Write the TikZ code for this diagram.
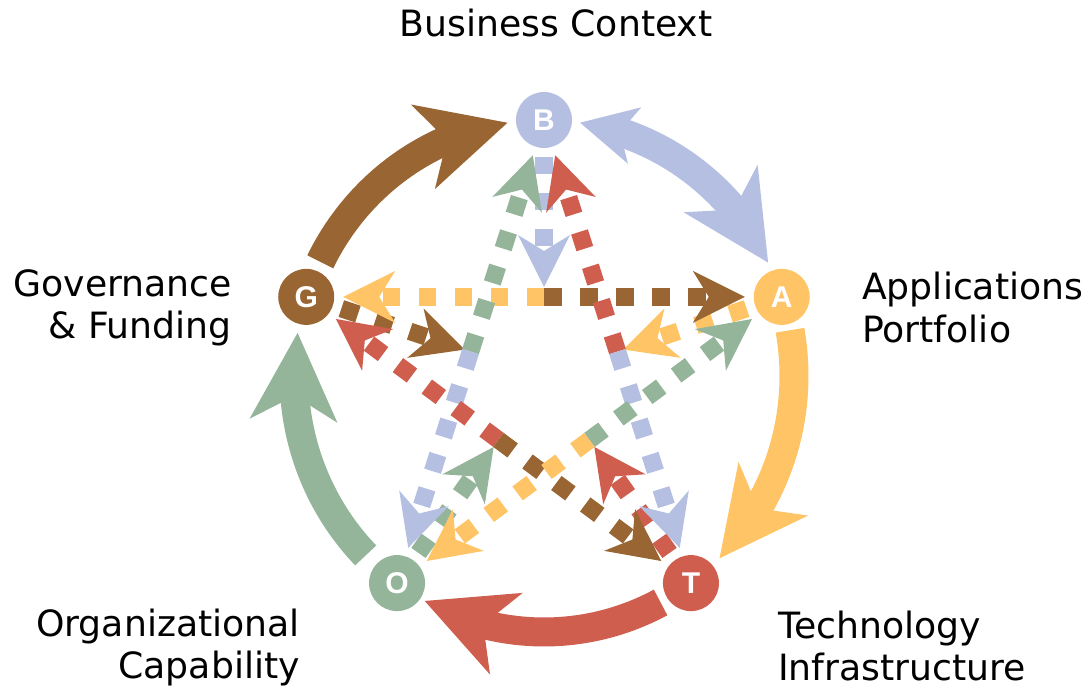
\documentclass[tikz,border=0pt]{standalone}
\usepackage{fontspec}
\setmainfont{DejaVu Sans}
\newfontfamily\letterfont{Liberation Sans}
\usetikzlibrary{arrows.meta,bending,calc}
\definecolor{cB}{HTML}{B4BFE2}
\definecolor{cA}{HTML}{FFC466}
\definecolor{cT}{HTML}{D05E4F}
\definecolor{cO}{HTML}{95B59A}
\definecolor{cG}{HTML}{996633}
\begin{document}
\begin{tikzpicture}[x=1pt,y=1pt,
  hub/.style={circle,minimum size=56pt,inner sep=0pt,outer sep=9pt,
    font=\letterfont\bfseries\fontsize{30}{30}\selectfont,text=white},
  band/.style={line width=29pt},
  bigtip/.style={-{Stealth[length=88pt,width=88pt,inset=25pt,line width=0pt]}},
  dots/.style={line width=17.5pt,dash pattern=on 17.5pt off 18.5pt,
    -{Stealth[length=52pt,width=52pt,inset=16pt,line width=0pt]}},
  lab/.style={font=\fontsize{36.2}{42}\selectfont,inner sep=0pt}
]
\useasboundingbox (0,0) rectangle (1084,688);
\coordinate (C) at (544,312);

% hubs
\node[hub,fill=cB] (B) at ($(C)+(90:250 and 256)$) {B};
\node[hub,fill=cA] (A) at ($(C)+(18:250 and 256)$) {A};
\node[hub,fill=cT] (T) at ($(C)+(-54:250 and 256)$) {T};
\node[hub,fill=cO] (O) at ($(C)+(-126:250 and 256)$) {O};
\node[hub,fill=cG] (G) at ($(C)+(162:250 and 256)$) {G};

% outer arcs
\draw[band,cG,bigtip] ($(C)+(153.5:250 and 256)$)
  arc[start angle=153.5,end angle=98.4,x radius=250,y radius=256];
\draw[band,cB,{Stealth[length=56pt,width=58pt,inset=15pt,line width=0pt]}-{Stealth[length=88pt,width=88pt,inset=25pt,line width=0pt]}]
  ($(C)+(81.7:250 and 256)$)
  arc[start angle=81.7,end angle=26.3,x radius=250,y radius=256];
\draw[band,cA,bigtip] ($(C)+(10.3:250 and 256)$)
  arc[start angle=10.3,end angle=-45.4,x radius=250,y radius=256];
\draw[band,cT,bigtip] ($(C)+(-62.2:250 and 256)$)
  arc[start angle=-62.2,end angle=-118.5,x radius=250,y radius=256];
\draw[band,cO,bigtip] ($(C)+(224.5:250 and 256)$)
  arc[start angle=224.5,end angle=170.3,x radius=250,y radius=256];

% short arrows toward the centre
\draw[dots,cB] (B) -- ($(B)!167pt!(C)$);
\draw[dots,cA] (A) -- ($(A)!167pt!(C)$);
\draw[dots,cT] (T) -- ($(T)!167pt!(C)$);
\draw[dots,cO] (O) -- ($(O)!167pt!(C)$);
\draw[dots,cG] (G) -- ($(G)!167pt!(C)$);

% star halves
\draw[dots,cA] ($(G)!0.5!(A)$) -- (G);
\draw[dots,cG] ($(G)!0.5!(A)$) -- (A);
\draw[dots,cO] ($(B)!0.5!(O)$) -- (B);
\draw[dots,cB] ($(B)!0.5!(O)$) -- (O);
\draw[dots,cT] ($(B)!0.5!(T)$) -- (B);
\draw[dots,cB] ($(B)!0.5!(T)$) -- (T);
\draw[dots,cT] ($(G)!0.5!(T)$) -- (G);
\draw[dots,cG] ($(G)!0.5!(T)$) -- (T);
\draw[dots,cO] ($(A)!0.5!(O)$) -- (A);
\draw[dots,cA] ($(A)!0.5!(O)$) -- (O);

% labels
\node[lab,anchor=base] (tB) at (556,651) {Business Context};
\node[lab,anchor=base east] (tG1) at (232,391) {Governance};
\node[lab,anchor=base east] (tG2) at (232,349) {\& Funding};
\node[lab,anchor=base west] (tA1) at (862,388) {Applications};
\node[lab,anchor=base west] (tA2) at (862,345) {Portfolio};
\node[lab,anchor=base east] (tO1) at (300,51) {Organizational};
\node[lab,anchor=base east] (tO2) at (300,10) {Capability};
\node[lab,anchor=base west] (tT1) at (778,49) {Technology};
\node[lab,anchor=base west] (tT2) at (778,8) {Infrastructure};
\end{tikzpicture}
\end{document}
